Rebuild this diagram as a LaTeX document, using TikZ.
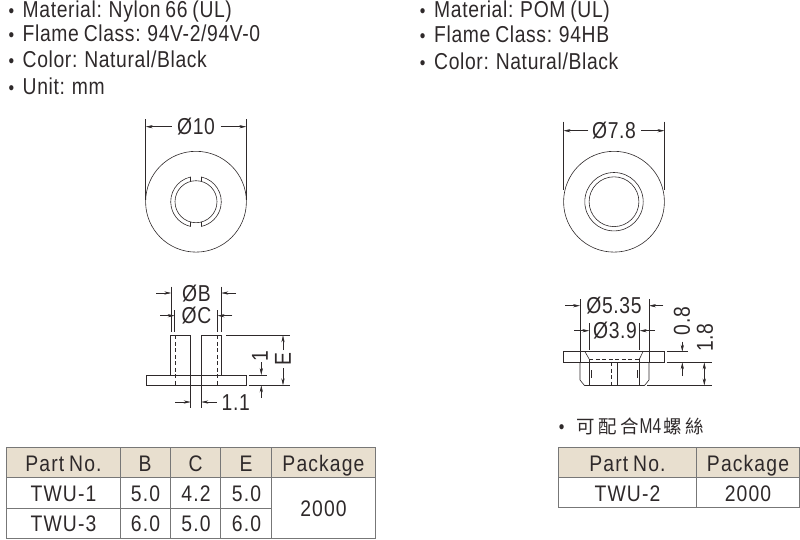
\documentclass[tikz,border=0pt]{standalone}
\usepackage{fontspec}
\setmainfont[FakeStretch=0.84,LetterSpace=2.8,WordSpace=0.8]{Liberation Sans}
\newfontfamily\cellfont[FakeStretch=0.86,LetterSpace=5,WordSpace=0.75]{Liberation Sans}
\newfontfamily\notefont[FakeStretch=0.72]{Liberation Sans}
\newfontfamily\cjk{Noto Sans CJK TC}
\usetikzlibrary{arrows.meta}
\definecolor{inkgray}{HTML}{2E292A}
\definecolor{rulegray}{HTML}{777777}
\definecolor{headtan}{HTML}{E8DFCF}
\tikzset{
  partline/.style={inkgray,line width=0.6pt},
  hiddenline/.style={inkgray,line width=0.6pt,dash pattern=on 4pt off 2.5pt},
  extline/.style={inkgray,line width=0.5pt},
  dimline/.style={inkgray,line width=0.5pt,-{Stealth[length=7pt,width=3.2pt]}},
  label/.style={inkgray,inner sep=0pt,font=\fontsize{23}{25}\selectfont},
  cell/.style={label,anchor=base,font=\cellfont\fontsize{22.5}{25}\selectfont},
  spec/.style={label,anchor=base west},
  dot/.style={inkgray,inner sep=0pt,anchor=base,font=\fontsize{19}{20}\selectfont},
  grid/.style={rulegray,line width=0.9pt}
}
\begin{document}
\begin{tikzpicture}[x=1pt,y=-1pt]
\useasboundingbox (0,0) rectangle (800,539);
% top notes, left
\node[dot] (dotA) at (11.5,17) {•};
\node[spec] (matA) at (22.5,17) {Material: Nylon 66 (UL)};
\node[dot] (dotB) at (11.5,41.7) {•};
\node[spec] (flameA) at (22.5,41.7) {Flame Class: 94V-2/94V-0};
\node[dot] (dotC) at (11.5,67.3) {•};
\node[spec] (colorA) at (22.5,67.3) {Color: Natural/Black};
\node[dot] (dotD) at (11.5,94) {•};
\node[spec] (unitA) at (22.5,94) {Unit: mm};
% top notes, right
\node[dot] (dotE) at (422.7,17) {•};
\node[spec] (matB) at (434,17) {Material: POM (UL)};
\node[dot] (dotF) at (422.7,42.7) {•};
\node[spec] (flameB) at (434,42.7) {Flame Class: 94HB};
\node[dot] (dotG) at (422.7,69) {•};
\node[spec] (colorB) at (434,69) {Color: Natural/Black};
% left part, front view
\draw[partline] (196,201.7) circle (50.4pt);
\draw[partline] (196,201.7) circle (21pt);
\draw[partline] (201.5,181.4) -- (201.5,177) arc (77.4:-77.4:25.3pt) -- (201.5,222);
\draw[partline] (190.5,181.4) -- (190.5,177) arc (102.6:257.4:25.3pt) -- (190.5,222);
\draw[extline] (145.7,119) -- (145.7,200);
\draw[extline] (246.3,119) -- (246.3,200);
\draw[dimline] (171.5,126.7) -- (145.7,126.7);
\draw[dimline] (220.7,126.7) -- (246.3,126.7);
\node[label,anchor=base] (diaTen) at (196,134.3) {Ø10};
% left part, side view
\draw[partline] (146,375) rectangle (246.7,385.3);
\draw[partline] (170.7,375) -- (170.7,335.3) -- (190.7,335.3) -- (190.7,375);
\draw[partline] (221.7,375) -- (221.7,335.3) -- (201.3,335.3) -- (201.3,375);
\draw[hiddenline] (175.3,335.3) -- (175.3,385.3);
\draw[hiddenline] (217.3,335.3) -- (217.3,385.3);
\draw[extline] (190.7,375) -- (190.7,408);
\draw[extline] (201.3,375) -- (201.3,408);
\draw[extline] (171.3,286.7) -- (171.3,332);
\draw[extline] (221.3,286.7) -- (221.3,332);
\draw[extline] (174.7,310) -- (174.7,332);
\draw[extline] (217.5,310) -- (217.5,332);
\draw[dimline] (156,293) -- (171.3,293);
\draw[dimline] (236,293) -- (221.3,293);
\draw[dimline] (160,315.7) -- (174.7,315.7);
\draw[dimline] (232.3,315.7) -- (217.5,315.7);
\node[label,anchor=base] (diaB) at (196.5,301) {ØB};
\node[label,anchor=base] (diaC) at (196.5,323.3) {ØC};
\draw[extline] (226,335.3) -- (290,335.3);
\draw[extline] (248.7,375) -- (267,375);
\draw[extline] (248.7,385.3) -- (290,385.3);
\draw[dimline] (283,350) -- (283,335.3);
\draw[dimline] (283,368) -- (283,385.3);
\draw[dimline] (261.3,362) -- (261.3,375);
\draw[dimline] (261.3,398) -- (261.3,385.3);
\draw[dimline] (175,402) -- (190.7,402);
\draw[dimline] (216.7,402) -- (201.3,402);
\node[label,rotate=90] (lenE) at (283,359) {E};
\node[label,rotate=90] (lenOne) at (260,356.5) {1};
\node[label,anchor=base west] (gapLen) at (221.5,410.5) {1.1};
% right part, front view
\draw[partline] (614,201.7) circle (50.4pt);
\draw[partline] (614,201.7) circle (29.2pt);
\draw[partline] (614,201.7) circle (24.9pt);
\draw[extline] (563.5,121.7) -- (563.5,190);
\draw[extline] (664.5,121.7) -- (664.5,190);
\draw[dimline] (588.3,130.7) -- (563.5,130.7);
\draw[dimline] (641,130.7) -- (664.5,130.7);
\node[label,anchor=base] (diaOuter) at (614,138.7) {Ø7.8};
% right part, side view
\draw[partline] (563.7,351.7) rectangle (664.7,362.3);
\draw[partline] (580,362.3) -- (580,380) -- (584.5,385.5) -- (644.5,385.5) -- (649,380) -- (649,362.3);
\draw[partline] (585,351.7) -- (589.3,359.3);
\draw[partline] (643,351.7) -- (639.3,359.3);
\draw[hiddenline] (589.3,359.3) -- (639.3,359.3);
\draw[partline] (589.3,359.3) -- (589.3,385.5);
\draw[partline] (639.3,359.3) -- (639.3,385.5);
\draw[partline] (591,370) -- (591,378);
\draw[partline] (637.7,370) -- (637.7,378);
\draw[hiddenline] (611,362.3) -- (611,385.5);
\draw[partline] (617.3,362.3) -- (617.3,385.5);
\draw[extline] (580,299) -- (580,362.3);
\draw[extline] (649,299) -- (649,362.3);
\draw[extline] (589.3,323) -- (589.3,350);
\draw[extline] (639.7,323) -- (639.7,350);
\draw[dimline] (565,305.7) -- (580,305.7);
\draw[dimline] (663.3,305.7) -- (649,305.7);
\draw[dimline] (574,330.7) -- (589.3,330.7);
\draw[dimline] (655,330.7) -- (639.7,330.7);
\node[label,anchor=base] (diaMid) at (614,313.3) {Ø5.35};
\node[label,anchor=base] (diaBore) at (615,338.3) {Ø3.9};
\draw[extline] (666.7,351.7) -- (687.7,351.7);
\draw[extline] (666.7,362.3) -- (712.3,362.3);
\draw[extline] (647,385.5) -- (712.3,385.5);
\draw[dimline] (682.3,341.7) -- (682.3,351.7);
\draw[dimline] (682.3,376) -- (682.3,362.3);
\draw[dimline] (704.3,374) -- (704.3,362.3);
\draw[dimline] (704.3,374) -- (704.3,385.5);
\node[label,rotate=90] (lenFlange) at (682,321) {0.8};
\node[label,rotate=90] (lenBody) at (705,337.5) {1.8};
% note
\node[dot] (dotH) at (561.7,433) {•};
\node[label,anchor=base west] (noteM) at (576,433) {{\cjk\fontsize{18.5}{20}\selectfont 可\hspace{3.5pt}配\hspace{3.5pt}合}\hspace{1pt}{\notefont\fontsize{21.5}{22}\selectfont M4}\hspace{2pt}{\cjk\fontsize{18.5}{20}\selectfont 螺\hspace{4pt}絲}};
% left table
\fill[headtan] (6.7,447.3) rectangle (375.7,477.3);
\draw[grid] (6.7,447.3) rectangle (375.7,538.3);
\draw[grid] (6.7,477.3) -- (375.7,477.3);
\draw[grid] (6.7,508.3) -- (271.3,508.3);
\draw[grid] (120,447.3) -- (120,538.3);
\draw[grid] (170.3,447.3) -- (170.3,538.3);
\draw[grid] (220.7,447.3) -- (220.7,538.3);
\draw[grid] (271.3,447.3) -- (271.3,538.3);
\node[cell] (headPart) at (63.5,471.7) {Part No.};
\node[cell] (headB) at (145,471.7) {B};
\node[cell] (headC) at (195.5,471.7) {C};
\node[cell] (headE) at (246,471.7) {E};
\node[cell] (headPack) at (323.5,471.7) {Package};
\node[cell] (partOne) at (63.5,501.7) {TWU-1};
\node[cell] (bOne) at (145.5,501.7) {5.0};
\node[cell] (cOne) at (196,501.7) {4.2};
\node[cell] (eOne) at (246.5,501.7) {5.0};
\node[cell] (partThree) at (63.5,531.7) {TWU-3};
\node[cell] (bThree) at (145.5,531.7) {6.0};
\node[cell] (cThree) at (196,531.7) {5.0};
\node[cell] (eThree) at (246.5,531.7) {6.0};
\node[cell] (packA) at (323.5,516.7) {2000};
% right table
\fill[headtan] (558.3,447.3) rectangle (799.5,477.3);
\draw[grid] (558.3,447.3) rectangle (799.5,507.3);
\draw[grid] (558.3,477.3) -- (799.5,477.3);
\draw[grid] (696.3,447.3) -- (696.3,507.3);
\node[cell] (headPartB) at (627.5,471.7) {Part No.};
\node[cell] (headPackB) at (748,471.7) {Package};
\node[cell] (partTwo) at (627.5,501.7) {TWU-2};
\node[cell] (packB) at (748,501.7) {2000};
\end{tikzpicture}
\end{document}
